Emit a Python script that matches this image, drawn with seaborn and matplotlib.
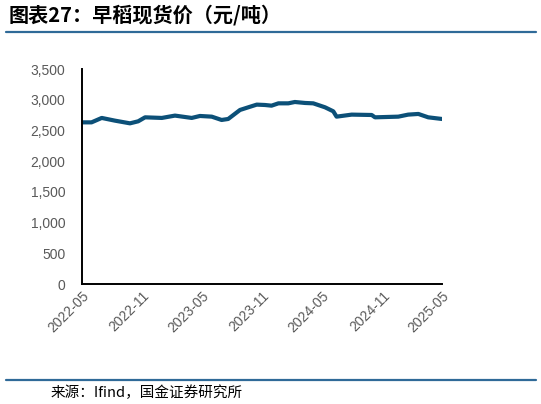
import pandas as pd
import seaborn as sns
import matplotlib.pyplot as plt
import matplotlib.dates as mdates
from matplotlib.lines import Line2D
from matplotlib.ticker import FuncFormatter

sns.set_style("white")
plt.rcParams['font.family'] = ['Liberation Sans', 'Noto Sans CJK SC', 'DejaVu Sans']

# Early rice spot price (yuan/ton)
dates = ["2022-05-01", "2022-05-30", "2022-06-30", "2022-08-09", "2022-09-24",
         "2022-10-19", "2022-11-09", "2022-12-30", "2023-02-08", "2023-03-31",
         "2023-04-25", "2023-05-31", "2023-06-30", "2023-07-20", "2023-08-25",
         "2023-09-19", "2023-10-15", "2023-11-09", "2023-11-29", "2023-12-20",
         "2024-01-19", "2024-02-08", "2024-03-10", "2024-04-04", "2024-05-10",
         "2024-06-04", "2024-06-14", "2024-07-30", "2024-09-29", "2024-10-09",
         "2024-12-19", "2025-01-18", "2025-02-18", "2025-03-20", "2025-05-01"]
prices = [2635, 2635, 2707, 2663, 2619,
          2652, 2717, 2707, 2745, 2707,
          2739, 2728, 2674, 2690, 2837,
          2880, 2924, 2918, 2907, 2945,
          2945, 2967, 2951, 2945, 2880,
          2815, 2728, 2761, 2755, 2717,
          2728, 2761, 2772, 2717, 2690]

df = pd.DataFrame({"date": pd.to_datetime(dates), "price": prices})

fig = plt.figure(figsize=(5.41, 4.04), dpi=100)
ax = fig.add_axes([0.1516, 0.297, 0.6654, 0.5315])

sns.lineplot(data=df, x="date", y="price", ax=ax, color="#0c5078", linewidth=3.0)

ax.set_xlim(pd.Timestamp("2022-05-01"), pd.Timestamp("2025-05-01"))
ax.set_ylim(0, 3500)
ax.set_yticks(range(0, 3501, 500))
ax.yaxis.set_major_formatter(FuncFormatter(lambda v, p: f"{int(v):,}"))
ax.xaxis.set_major_locator(mdates.MonthLocator(bymonth=[5, 11]))
ax.xaxis.set_major_formatter(mdates.DateFormatter("%Y-%m"))
ax.set_xlabel("")
ax.set_ylabel("")

for s in ["top", "right"]:
    ax.spines[s].set_visible(False)
for s in ["left", "bottom"]:
    ax.spines[s].set_color("black")
    ax.spines[s].set_linewidth(1.4)
ax.tick_params(axis="both", direction="in", length=4, width=1.2, color="black",
               labelsize=10, labelcolor="#595959")
ax.tick_params(axis="y", pad=12)
plt.setp(ax.get_xticklabels(), rotation=45, ha="right", rotation_mode="anchor")

# title and source
fig.text(0.015, 0.962, "图表27：早稻现货价（元/吨）", fontsize=14.5, fontweight="bold",
         family=["Noto Sans CJK SC"], va="center", ha="left", color="black")
fig.add_artist(Line2D([0.012, 0.99], [0.921, 0.921], color="#2f6a98", linewidth=1.6))
fig.add_artist(Line2D([0.012, 0.99], [0.06, 0.06], color="#2f6a98", linewidth=1.6))
fig.text(0.094, 0.027, "来源：Ifind，国金证券研究所", fontsize=10.5,
         family=["Noto Sans CJK SC"], va="center", ha="left", color="black")

plt.savefig("out.png", dpi=100)
plt.close()
